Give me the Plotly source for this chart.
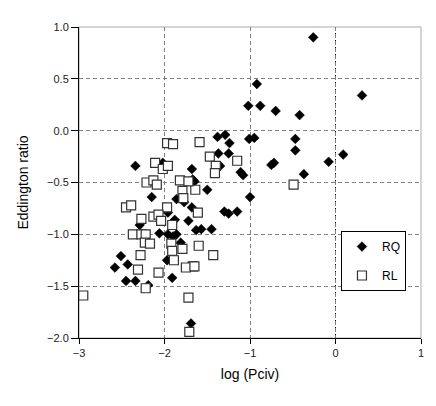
"""
plot.py
Eddington ratio versus log (Pciv) for RQ and RL samples.
"""

import plotly.graph_objects as go

# -----------------------------------------------------------------------
# Data
# -----------------------------------------------------------------------

rq_x = [-0.26, 0.31, -0.92, -0.88, -1.02, -0.70, -0.42, -0.95, -1.01, -0.47,
        -0.47, -0.75, -0.72, 0.09, -0.08, -0.37, -1.00, -1.38, -1.29, -1.24,
        -1.37, -1.25, -1.35, -1.11, -1.08, -1.68, -1.67, -1.50, -1.30, -1.25,
        -1.15, -1.68, -1.63, -1.57, -1.45, -1.72, -2.34, -2.02, -2.15, -1.86,
        -1.77, -1.96, -2.29, -1.88, -2.06, -1.96, -1.90, -1.86, -1.81, -2.51,
        -1.97, -2.58, -2.43, -1.91, -2.45, -2.34, -2.19, -1.69, -1.65]
rq_y = [0.90, 0.34, 0.45, 0.24, 0.24, 0.19, 0.15, -0.07, -0.08, -0.08,
        -0.19, -0.33, -0.31, -0.23, -0.30, -0.42, -0.64, -0.06, -0.04, -0.12,
        -0.22, -0.22, -0.34, -0.40, -0.43, -0.37, -0.47, -0.57, -0.78, -0.80,
        -0.78, -0.74, -0.96, -0.95, -0.95, -0.87, -0.34, -0.31, -0.64, -0.66,
        -0.69, -0.79, -0.91, -0.86, -0.99, -1.00, -1.02, -1.00, -1.08, -1.21,
        -1.25, -1.32, -1.29, -1.42, -1.45, -1.45, -1.49, -1.86, -0.49]

rl_x = [-0.49, -1.59, -1.47, -1.15, -1.40, -1.41, -1.64, -1.61, -1.60, -1.43,
        -1.67, -1.97, -1.90, -2.11, -2.02, -1.96, -2.21, -2.13, -2.09, -1.82,
        -1.72, -1.79, -1.78, -2.45, -2.39, -1.97, -2.27, -2.13, -2.07, -2.04,
        -1.91, -2.37, -2.27, -2.22, -2.23, -2.17, -1.92, -1.79, -1.91, -2.28,
        -1.89, -2.31, -2.07, -1.75, -2.22, -2.95, -1.72, -1.71, -1.65]
rl_y = [-0.52, -0.11, -0.25, -0.29, -0.34, -0.41, -0.57, -0.79, -1.11, -1.20,
        -1.31, -0.12, -0.13, -0.31, -0.37, -0.34, -0.50, -0.48, -0.52, -0.48,
        -0.49, -0.58, -0.65, -0.74, -0.72, -0.74, -0.85, -0.83, -0.81, -0.87,
        -0.91, -1.00, -1.00, -1.00, -1.08, -1.09, -1.09, -1.14, -1.16, -1.20,
        -1.25, -1.34, -1.37, -1.32, -1.52, -1.59, -1.61, -1.94, -1.31]

x_ticks = [-3, -2, -1, 0, 1]
y_ticks = [-2.0, -1.5, -1.0, -0.5, 0.0, 0.5, 1.0]

FONT = "Liberation Sans, Arial, sans-serif"

# -----------------------------------------------------------------------
# Figure
# -----------------------------------------------------------------------

fig = go.Figure()

fig.add_trace(go.Scatter(
    x=rq_x, y=rq_y, mode="markers", name="RQ", legendgroup="rq",
    marker=dict(symbol="diamond", size=7.5, color="black",
                line=dict(color="black", width=0.5)),
))
fig.add_trace(go.Scatter(
    x=rl_x, y=rl_y, mode="markers", name="RL", legendgroup="rl",
    marker=dict(symbol="square", size=9, color="white",
                line=dict(color="#333333", width=1.2)),
))

# plot-area frame (grey top/right) and the black dashed x = 0 gridline
fig.add_shape(type="rect", xref="paper", yref="paper", x0=0, y0=0, x1=1, y1=1,
              line=dict(color="#aaaaaa", width=1), layer="below")
fig.add_shape(type="line", xref="x", yref="paper", x0=0, x1=0, y0=0, y1=1,
              line=dict(color="black", width=1, dash="4px,3px"), layer="below")

axis_common = dict(
    showgrid=True, gridcolor="#808080", gridwidth=1, griddash="4px,3px",
    zeroline=False, showline=True, linecolor="black", linewidth=1,
    ticks="outside", tickcolor="black",
    tickfont=dict(family=FONT, size=11, color="#222222"),
)

fig.update_xaxes(
    range=[-3, 1], tickvals=x_ticks, tickformat="d", ticklen=5,
    title=dict(text="log (Pciv)", font=dict(family=FONT, size=14, color="black"),
               standoff=10),
    **axis_common,
)
fig.update_yaxes(
    range=[-2.0, 1.0], tickvals=y_ticks, tickformat=".1f", ticklen=7,
    title=dict(text="Eddington ratio", font=dict(family=FONT, size=14, color="black"),
               standoff=15),
    **axis_common,
)

fig.update_layout(
    width=436, height=406,
    margin=dict(l=71, r=23, t=19, b=76),
    paper_bgcolor="white", plot_bgcolor="white",
    font=dict(family=FONT, size=12, color="black"),
    showlegend=True,
    legend=dict(
        x=0.861, y=0.344, xanchor="center", yanchor="top",
        bordercolor="black", borderwidth=1, bgcolor="white",
        itemwidth=30, traceorder="grouped", tracegroupgap=10,
        font=dict(family=FONT, size=12, color="black"),
    ),
)

fig.write_html("out.html")
